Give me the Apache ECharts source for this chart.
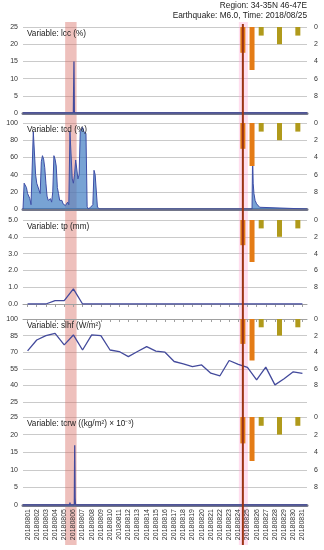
<!DOCTYPE html>
<html><head><meta charset="utf-8">
<script src="https://cdn.jsdelivr.net/npm/echarts/dist/echarts.min.js"></script>
<style>html,body{margin:0;padding:0;background:#fff}#c{width:324px;height:550px}</style>
</head><body><div id="c"></div>
<script>
// ---------------- data ----------------
const dates = ['20180801','20180802','20180803','20180804','20180805','20180806','20180807','20180808',
  '20180809','20180810','20180811','20180812','20180813','20180814','20180815','20180816','20180817',
  '20180818','20180819','20180820','20180821','20180822','20180823','20180824','20180825','20180826',
  '20180827','20180828','20180829','20180830','20180831'];
const quakeDate = '20180825';
const anomalyDate = '20180806';
const regionText = 'Region: 34-35N 46-47E';
const quakeText = 'Earthquake: M6.0, Time: 2018/08/25';
const panelNames = ['Variable: lcc (%)','Variable: tcd (%)','Variable: tp (mm)','Variable: slhf (W/m²)','Variable: tcrw ((kg/m²) × 10⁻³)'];

// right-axis bars (inverted scale 0..10)
const barDates = ['20180825','20180826','20180827','20180829','20180831'];
const barValues = [3, 5, 1, 2, 1];

// daily series
const tpDaily = [0,0,0,0.2,0.2,0.9,0,0,0,0,0,0,0,0,0,0,0,0,0,0,0,0,0,0,0,0,0,0,0,0,0];
const slhfDaily = [71.2,81,85,87,76.6,85.6,72,85.6,85,72,70.6,66,70.6,75,71,70,61.6,59.5,57,58.5,
  51,48.7,62.5,59,56.3,45,56.5,40.5,46,52.3,50.8];

// hourly series: hours since 2018-08-01 00:00
const lccHours  = [0, 132, 133.5, 134.5, 744];
const lccValues = [0, 0, 15, 0, 0];

const tcd3hValues = [0,30,28,25,18,20,12,5,3,90,88,40,30,28,22,18,55,62,58,48,30,15,10,8,12,8,20,62,58,50,
  25,18,10,8,10,6,8,4,6,8,5,90,92,35,30,40,57,55,35,40,90,88,95,90,92,88,3,0,0,2,0,5,45,40,38,2,0];
const tcdSpikeHours  = [600, 601.5, 603, 605, 608, 612, 616, 620, 624, 744];
const tcdSpikeValues = [0, 65, 30, 18, 10, 6, 4, 2, 0, 0];

const tcrwHours  = [0, 122, 123, 124, 134.5, 135.5, 136.5, 137.5, 744];
const tcrwValues = [0, 0, 0.7, 0, 0, 17, 2, 0, 0];

// ---------------- layout / style ----------------
const FONT = 'Liberation Sans, Arial, sans-serif';
const GL = 23, GR = 17;
const panels = [
  {min:0, max:25, interval:5, top:27, height:86, thick:true},
  {min:0, max:100, interval:20, top:123, height:86, thick:true},
  {min:0, max:5, interval:1, top:220, height:84, thick:false, dec:1},
  {min:25, max:100, interval:15, top:319, height:83, thick:false},
  {min:0, max:25, interval:5, top:417, height:88, thick:true}
];
const LINE = '#434a9c';

const dayPos = d => dates.indexOf(d);            // start of day (days since Aug 1)
const hourly = (h, v) => h.map((x, i) => [x / 24, v[i]]);
const tcdData = tcd3hValues.map((v, k) => [k * 3 / 24, v])
  .concat([[(tcd3hValues.length) * 3 / 24, 0]])
  .concat(hourly(tcdSpikeHours, tcdSpikeValues));

const grids = [], xAxes = [], yAxes = [], series = [], titles = [];
panels.forEach((p, i) => {
  grids.push({left: GL, right: GR, top: p.top, height: p.height});
  xAxes.push({
    gridIndex: i, type: 'category', data: dates, boundaryGap: true,
    axisLine: {lineStyle: p.thick ? {color: '#737689', width: 3} : {color: '#a0a0a0', width: 1}},
    axisTick: {show: !p.thick, alignWithLabel: true, length: 3, lineStyle: {color: '#a0a0a0'}},
    axisLabel: {show: i === 4, rotate: 90, interval: 0, fontSize: 7, margin: 4, color: '#333', fontFamily: FONT},
    splitLine: {show: false}, z: 1
  });
  xAxes.push({gridIndex: i, type: 'value', min: 0, max: 31, show: false});
  yAxes.push({
    gridIndex: i, type: 'value', min: p.min, max: p.max, interval: p.interval,
    axisLine: {show: false}, axisTick: {show: false},
    axisLabel: {fontSize: 7, margin: 5, color: '#333', fontFamily: FONT,
      formatter: v => p.dec ? v.toFixed(p.dec) : String(v)},
    splitLine: {lineStyle: {color: '#cacaca', width: 1}}
  });
  yAxes.push({
    gridIndex: i, type: 'value', inverse: true, min: 0, max: 10, interval: 2, position: 'right',
    axisLine: {show: false}, axisTick: {show: false}, splitLine: {show: false},
    axisLabel: {fontSize: 7, margin: 7, color: '#333', fontFamily: FONT,
      formatter: v => v === 10 ? '' : String(v)}
  });
  titles.push({text: panelNames[i], left: GL + 4, top: p.top + 3, padding: 0,
    textStyle: {fontSize: 8.2, fontWeight: 'normal', color: '#222', fontFamily: FONT}});
  // bars
  series.push({
    type: 'bar', xAxisIndex: 2 * i + 1, yAxisIndex: 2 * i + 1, barWidth: 5, z: 4,
    data: barDates.map((d, k) => ({value: [dayPos(d), barValues[k]],
      itemStyle: {color: barValues[k] >= 3 ? '#e47c16' : '#b09a1b'}})),
    silent: true
  });
});
titles.push({text: regionText, right: GR, top: 2, padding: 0,
  textStyle: {fontSize: 8.3, fontWeight: 'normal', color: '#222', fontFamily: FONT}});
titles.push({text: quakeText, right: GR, top: 12, padding: 0,
  textStyle: {fontSize: 8.3, fontWeight: 'normal', color: '#222', fontFamily: FONT}});

const lineStyle = {color: LINE, width: 1.3};
series.push({type: 'line', xAxisIndex: 1, yAxisIndex: 0, data: hourly(lccHours, lccValues),
  showSymbol: false, lineStyle, z: 3});
series.push({type: 'line', xAxisIndex: 3, yAxisIndex: 2, data: tcdData, showSymbol: false,
  lineStyle: {color: '#3d4ea6', width: 1}, areaStyle: {color: '#3f7cc2', opacity: 0.7}, z: 3});
series.push({type: 'line', xAxisIndex: 4, yAxisIndex: 4, data: tpDaily, showSymbol: false, lineStyle, z: 3});
series.push({type: 'line', xAxisIndex: 6, yAxisIndex: 6, data: slhfDaily, showSymbol: false, lineStyle, z: 3});
series.push({type: 'line', xAxisIndex: 9, yAxisIndex: 8, data: hourly(tcrwHours, tcrwValues),
  showSymbol: false, lineStyle, z: 3});

const chart = echarts.init(document.getElementById('c'), null, {renderer: 'canvas'});
chart.setOption({
  animation: false, backgroundColor: '#fff',
  title: titles, grid: grids, xAxis: xAxes, yAxis: yAxes, series
});

// overlays derived from the axis scale
const px = v => chart.convertToPixel({xAxisIndex: 1}, v);
const qx = px(dayPos(quakeDate));
const a0 = px(dayPos(anomalyDate) - 0.4), a1 = px(dayPos(anomalyDate) + 0.85);
const yTop = panels[0].top - 5, yBot = 545;
chart.setOption({graphic: [
  {type: 'rect', z: 1, silent: true, shape: {x: a0, y: yTop, width: a1 - a0, height: yBot - yTop},
    style: {fill: 'rgba(214,105,95,0.42)'}},
  {type: 'rect', z: 1, silent: true, shape: {x: qx - 4, y: yTop, width: 9, height: yBot - yTop},
    style: {fill: 'rgba(255,160,210,0.35)'}},
  {type: 'line', z: 10, silent: true, shape: {x1: qx, y1: yTop + 2, x2: qx, y2: yBot},
    style: {stroke: '#9c3314', lineWidth: 2}}
]});
</script></body></html>
